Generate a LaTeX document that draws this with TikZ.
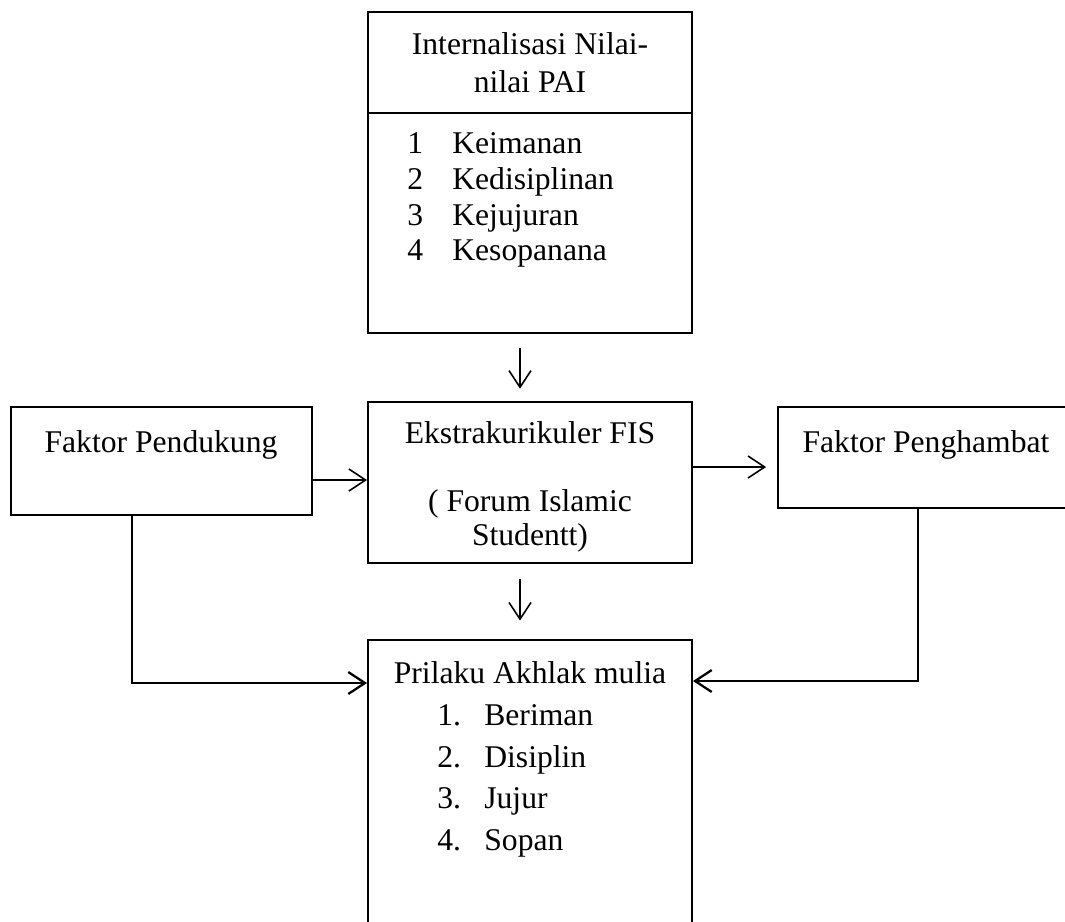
\documentclass[tikz,border=0pt]{standalone}
\usepackage{fontspec}
\setmainfont{Liberation Serif}
\usetikzlibrary{arrows.meta}
\usetikzlibrary{fit}
\tikzset{>={Straight Barb[length=9.5pt,width=12.5pt]}}
\tikzset{
    box/.style={draw, line width=1.1pt, inner sep=0pt},
    teks/.style={font=\fontsize{18}{21.5}\selectfont, inner sep=0pt, anchor=base},
    butir/.style={teks, anchor=base west},
    panah/.style={->, line width=0.9pt},
    siku/.style={->, line width=1.3pt}
}

\begin{document}
\begin{tikzpicture}[x=0.02cm, y=-0.02cm]
            \useasboundingbox (0, 0) rectangle (1065, 921);
            % kotak-kotak
            \node[box, fit={(368, 12) (692, 113)}] (judul) {};
            \node[box, fit={(368, 113) (692, 333)}] (nilai) {};
            \node[box, fit={(368, 402) (692, 563)}] (fis) {};
            \node[box, fit={(11, 407) (312, 515)}] (pendukung) {};
            \node[box, fit={(778, 407) (1076, 508)}] (hambat) {};
            \node[box, fit={(368, 640) (692, 960)}] (akhlak) {};
            % teks
            \node[teks] (judul1) at (530, 54) {Internalisasi Nilai-};
            \node[teks] (judul2) at (530, 92) {nilai PAI};
            \node[butir] (n1) at (407, 153) {1};
            \node[butir] (n2) at (407, 189) {2};
            \node[butir] (n3) at (407, 225) {3};
            \node[butir] (n4) at (407, 260) {4};
            \node[butir] (iman) at (452, 153) {Keimanan};
            \node[butir] (disiplin) at (452, 189) {Kedisiplinan};
            \node[butir] (jujur) at (452, 225) {Kejujuran};
            \node[butir] (sopan) at (452, 260) {Kesopanana};
            \node[teks] (fis1) at (530, 443) {Ekstrakurikuler FIS};
            \node[teks] (fis2) at (530, 511) {( Forum Islamic};
            \node[teks] (fis3) at (530, 545) {Studentt)};
            \node[teks] (pendukung1) at (161, 452) {Faktor Pendukung};
            \node[teks] (hambat1) at (926, 452) {Faktor Penghambat};
            \node[teks] (akhlak1) at (530, 683) {Prilaku Akhlak mulia};
            \node[butir] (a1) at (437, 725) {1.};
            \node[butir] (a2) at (437, 767) {2.};
            \node[butir] (a3) at (437, 808) {3.};
            \node[butir] (a4) at (437, 850) {4.};
            \node[butir] (beriman) at (484, 725) {Beriman};
            \node[butir] (disiplin2) at (484, 767) {Disiplin};
            \node[butir] (jujur2) at (484, 808) {Jujur};
            \node[butir] (sopan2) at (484, 850) {Sopan};
            % panah
            \draw[panah, shorten <=8pt, shorten >=7pt] (520, 0 |- nilai.south) -- (520, 0 |- fis.north);
            \draw[panah, shorten <=8.5pt, shorten >=10.5pt] (520, 0 |- fis.south) -- (520, 0 |- akhlak.north);
            \draw[panah] (pendukung.east |- 0, 480) -- (fis.west |- 0, 480);
            \draw[panah, shorten >=6.2pt] (fis.east |- 0, 467) -- (hambat.west |- 0, 467);
            \draw[siku] (132, 0 |- pendukung.south) |- (akhlak.west |- 0, 683);
            \draw[siku] (918, 0 |- hambat.south) |- (akhlak.east |- 0, 681);
        \end{tikzpicture}
\end{document}
